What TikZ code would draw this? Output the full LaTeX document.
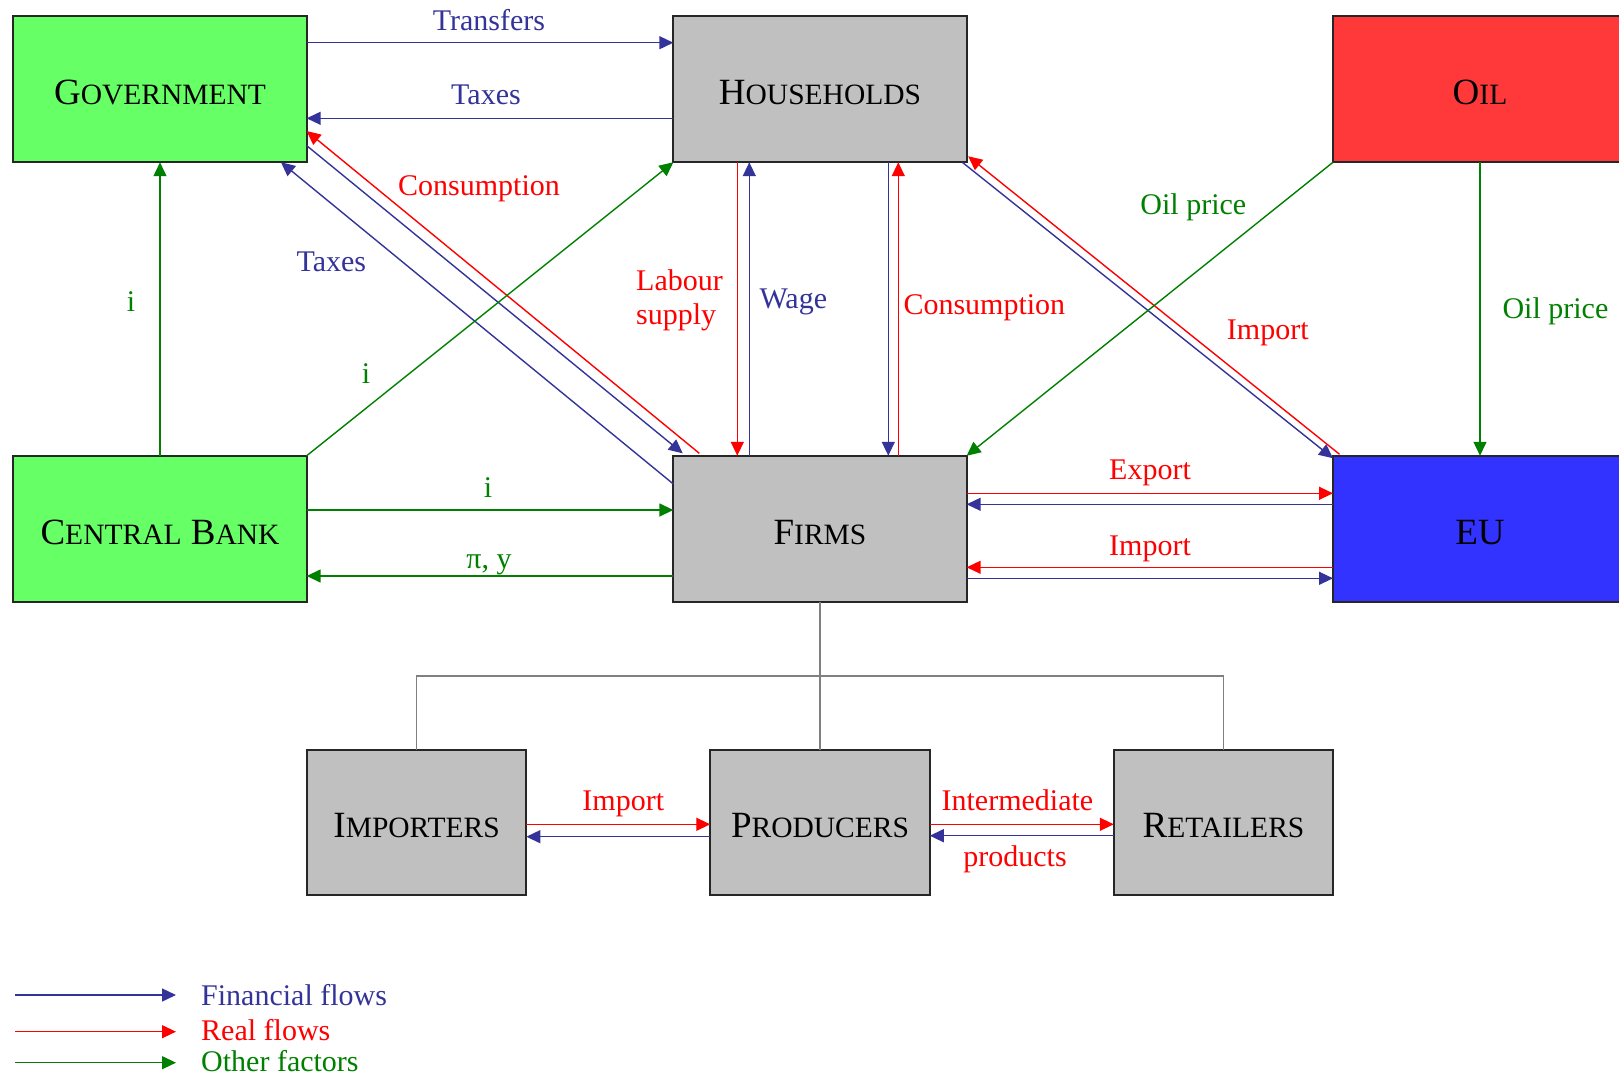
\documentclass[tikz,border=0pt]{standalone}
\usepackage{fontspec}
\setmainfont{Liberation Serif}
\usetikzlibrary{arrows.meta}
\definecolor{finc}{RGB}{51,51,153}
\definecolor{realc}{RGB}{255,0,0}
\definecolor{othc}{RGB}{0,128,0}
\definecolor{boxgreen}{RGB}{102,255,102}
\definecolor{boxgray}{RGB}{192,192,192}
\definecolor{boxred}{RGB}{255,57,57}
\definecolor{boxblue}{RGB}{51,51,255}
\definecolor{linkgray}{RGB}{128,128,128}
\newcommand{\smc}[1]{{\fontsize{29.5}{32}\selectfont #1}}
\begin{document}
\begin{tikzpicture}[x=1pt,y=-1pt,
  box/.style={draw=black!85, line width=1.8pt, outer sep=0pt, inner sep=0pt,
    minimum width=293.3pt, minimum height=146.5pt, text height=31pt, text depth=0pt,
    font=\fontsize{37}{40}\selectfont},
  subbox/.style={box, minimum width=219.5pt, minimum height=145.6pt},
  tipped/.style={-{Triangle[length=14pt,width=13pt]}, line width=1.4pt},
  fin/.style={tipped, draw=finc},
  real/.style={tipped, draw=realc},
  oth/.style={tipped, draw=othc},
  lbl/.style={anchor=base, inner sep=0pt, font=\fontsize{30}{36}\selectfont},
  link/.style={draw=linkgray, line width=1.4pt}]
\useasboundingbox (0,0) rectangle (1619,1078);

% boxes
\node[box, fill=boxgreen] (gov) at (160,89) {G\smc{OVERNMENT}};
\node[box, fill=boxgray] (hh) at (820,89) {H\smc{OUSEHOLDS}};
\node[box, fill=boxred, minimum width=294pt] (oil) at (1480,89) {O\smc{IL}};
\node[box, fill=boxgreen] (cb) at (160,529) {C\smc{ENTRAL} B\smc{ANK}};
\node[box, fill=boxgray] (firms) at (820,529) {F\smc{IRMS}};
\node[box, fill=boxblue, minimum width=294pt] (eu) at (1480,529) {EU};
\node[subbox, fill=boxgray] (imp) at (416.6,822.4) {I\smc{MPORTERS}};
\node[subbox, fill=boxgray] (prod) at (820,822.4) {P\smc{RODUCERS}};
\node[subbox, fill=boxgray] (ret) at (1223.5,822.4) {R\smc{ETAILERS}};

% government - households
\draw[fin] ([yshift=46.3pt]gov.east) -- ([yshift=46.3pt]hh.west);
\draw[fin] ([yshift=-29.3pt]hh.west) -- ([yshift=-29.3pt]gov.east);

% government - firms
\draw[real] ([xshift=26pt,yshift=2.4pt]firms.north west) -- ([yshift=-42pt]gov.east);
\draw[fin] ([yshift=-56.6pt]gov.east) -- ([xshift=9.4pt,yshift=2.4pt]firms.north west);
\draw[fin] ([yshift=45pt]firms.west) -- ([xshift=-25.7pt]gov.south east);

% central bank
\draw[oth] (cb.north) -- (gov.south);
\draw[oth] (cb.north east) -- (hh.south west);
\draw[oth] ([yshift=19pt]cb.east) -- ([yshift=19pt]firms.west);
\draw[oth] ([yshift=-47pt]firms.west) -- ([yshift=-47pt]cb.east);

% households - firms
\draw[real] ([xshift=-82.7pt]hh.south) -- ([xshift=-82.7pt]firms.north);
\draw[fin] ([xshift=-70.7pt]firms.north) -- ([xshift=-70.7pt]hh.south);
\draw[fin] ([xshift=68.3pt]hh.south) -- ([xshift=68.3pt]firms.north);
\draw[real] ([xshift=78.3pt]firms.north) -- ([xshift=78.3pt]hh.south);

% households - EU
\draw[fin] ([xshift=-4.4pt]hh.south east) -- ([yshift=-2.5pt]eu.north west);
\draw[real] ([xshift=6.5pt,yshift=1.5pt]eu.north west) -- ([xshift=1.5pt,yshift=6pt]hh.south east);

% oil
\draw[oth] (oil.south west) -- (firms.north east);
\draw[oth] (oil.south) -- (eu.north);

% firms - EU
\draw[real] ([yshift=35.7pt]firms.east) -- ([yshift=35.7pt]eu.west);
\draw[fin] ([yshift=24.7pt]eu.west) -- ([yshift=24.7pt]firms.east);
\draw[real] ([yshift=-38.3pt]eu.west) -- ([yshift=-38.3pt]firms.east);
\draw[fin] ([yshift=-49.3pt]firms.east) -- ([yshift=-49.3pt]eu.west);

% firms tree
\coordinate (bus) at (820,676);
\draw[link] (firms.south) -- (prod.north);
\draw[link] (imp.north) |- (bus) -| (ret.north);

% importers - producers - retailers
\draw[real] ([yshift=-1.9pt]imp.east) -- ([yshift=-1.9pt]prod.west);
\draw[fin] ([yshift=-14.3pt]prod.west) -- ([yshift=-14.3pt]imp.east);
\draw[real] ([yshift=-1.9pt]prod.east) -- ([yshift=-1.9pt]ret.west);
\draw[fin] ([yshift=-13.3pt]ret.west) -- ([yshift=-13.3pt]prod.east);

% labels
\node[lbl, text=finc] (tTransfers) at (489,30.7) {Transfers};
\node[lbl, text=finc] (tTaxes1) at (486,105) {Taxes};
\node[lbl, text=realc] (tCons1) at (479,196) {Consumption};
\node[lbl, text=finc] (tTaxes2) at (331.3,271) {Taxes};
\node[lbl, text=othc] (tI1) at (131,311) {i};
\node[lbl, text=othc] (tI2) at (366,383.3) {i};
\node[lbl, text=othc] (tI3) at (488,497.7) {i};
\node[lbl, text=othc] (tPi) at (489,568) {π, y};
\node[lbl, anchor=base west, text=realc] (tLab1) at (636,290.7) {Labour};
\node[lbl, anchor=base west, text=realc] (tLab2) at (636,324) {supply};
\node[lbl, anchor=base west, text=finc] (tWage) at (759.3,308) {Wage};
\node[lbl, anchor=base west, text=realc] (tCons2) at (903.3,314) {Consumption};
\node[lbl, text=othc] (tOil1) at (1193.3,214.3) {Oil price};
\node[lbl, text=realc] (tImp1) at (1267.8,339.3) {Import};
\node[lbl, anchor=base west, text=othc] (tOil2) at (1502.3,318.3) {Oil price};
\node[lbl, text=realc] (tExp) at (1150,479.3) {Export};
\node[lbl, text=realc] (tImp2) at (1150,555) {Import};
\node[lbl, text=realc] (tImp3) at (623.3,810) {Import};
\node[lbl, text=realc] (tInt) at (1017.4,810) {Intermediate};
\node[lbl, text=realc] (tProd) at (1015,866.7) {products};

% legend
\coordinate (lgA1) at (15,995);
\coordinate (lgA2) at (176,995);
\coordinate (lgB1) at (15,1031.7);
\coordinate (lgB2) at (176,1031.7);
\coordinate (lgC1) at (15,1062.7);
\coordinate (lgC2) at (176,1062.7);
\draw[fin] (lgA1) -- (lgA2);
\draw[real] (lgB1) -- (lgB2);
\draw[oth] (lgC1) -- (lgC2);
\node[lbl, anchor=base west, text=finc] (tLg1) at (201,1005) {Financial flows};
\node[lbl, anchor=base west, text=realc] (tLg2) at (201,1040) {Real flows};
\node[lbl, anchor=base west, text=othc] (tLg3) at (201,1071.7) {Other factors};
\end{tikzpicture}
\end{document}
